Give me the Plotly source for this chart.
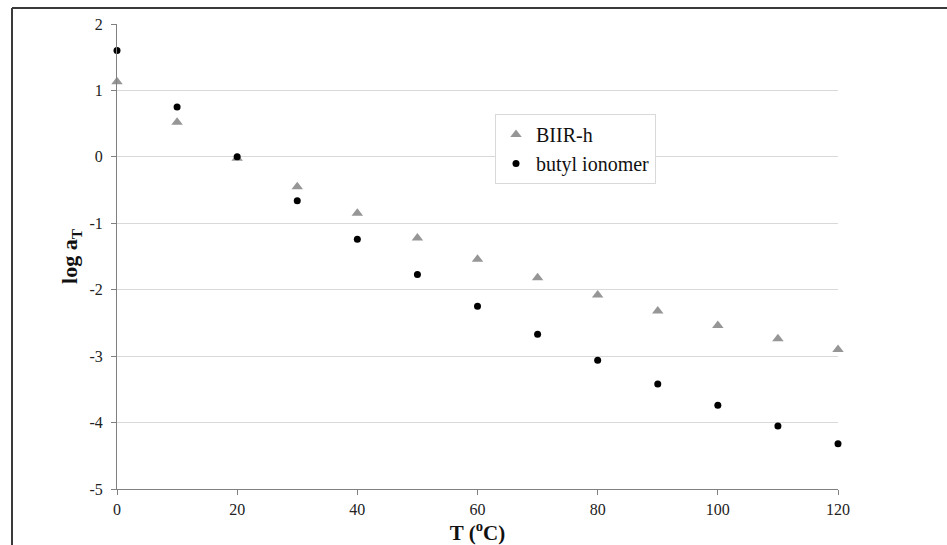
import plotly.graph_objects as go

# Data
temperature = [0, 10, 20, 30, 40, 50, 60, 70, 80, 90, 100, 110, 120]
biir_h = [1.13, 0.52, -0.02, -0.45, -0.85, -1.22, -1.54, -1.82, -2.08, -2.32, -2.54, -2.74, -2.90]
butyl_ionomer = [1.60, 0.75, 0.0, -0.66, -1.24, -1.77, -2.25, -2.67, -3.06, -3.42, -3.74, -4.05, -4.32]

x_ticks = [0, 20, 40, 60, 80, 100, 120]
y_ticks = [2, 1, 0, -1, -2, -3, -4, -5]
y_tick_labels = ["2", "1", "0", "-1", "-2", "-3", "-4", "-5"]

W, H = 947, 545
L, R, T, B = 117, 109, 24, 56
pw, ph = W - L - R, H - T - B

serif = "Liberation Serif, Times New Roman, serif"

fig = go.Figure()
fig.add_trace(go.Scatter(
    x=temperature, y=biir_h, mode="markers", name="BIIR-h",
    marker=dict(symbol="triangle-up", size=10, color="#969696"),
    cliponaxis=False,
))
fig.add_trace(go.Scatter(
    x=temperature, y=butyl_ionomer, mode="markers", name="butyl ionomer",
    marker=dict(symbol="circle", size=7, color="#000000"),
    cliponaxis=False,
))

def px_x(p):
    return (p - L) / pw

def px_y(p):
    return (H - B - p) / ph

# outer frame (top and left edges visible in reference)
fig.add_shape(type="line", xref="paper", yref="paper",
              x0=px_x(12), x1=px_x(W + 5), y0=px_y(8), y1=px_y(8),
              line=dict(color="#3a3a3a", width=2))
fig.add_shape(type="line", xref="paper", yref="paper",
              x0=px_x(12), x1=px_x(12), y0=px_y(8), y1=px_y(H + 5),
              line=dict(color="#3a3a3a", width=2))

fig.update_layout(
    width=W, height=H,
    margin=dict(l=L, r=R, t=T, b=B, pad=0, autoexpand=False),
    paper_bgcolor="white", plot_bgcolor="white",
    font=dict(family=serif, size=16, color="#222222"),
    showlegend=True,
    legend=dict(
        x=px_x(495), y=px_y(114), xanchor="left", yanchor="top",
        bgcolor="white", bordercolor="#d9d9d9", borderwidth=1,
        font=dict(family=serif, size=20, color="#111111"),
        itemwidth=30, tracegroupgap=0,
    ),
    xaxis=dict(
        range=[0, 120], tickvals=x_ticks, automargin=False,
        showgrid=False, zeroline=False,
        showline=True, linecolor="#808080", linewidth=1,
        ticks="outside", ticklen=5, tickcolor="#808080",
        ticklabelstandoff=1,
        tickfont=dict(family=serif, size=16, color="#222222"),
        title=dict(text="<b>T (<sup>o</sup>C)</b>", standoff=4,
                   font=dict(family=serif, size=21, color="#111111")),
    ),
    yaxis=dict(
        range=[-5, 2], tickvals=y_ticks, ticktext=y_tick_labels, automargin=False,
        showgrid=True, gridcolor="#d9d9d9", gridwidth=1, zeroline=False,
        showline=True, linecolor="#808080", linewidth=1,
        ticks="outside", ticklen=5, tickcolor="#808080",
        ticklabelstandoff=5,
        tickfont=dict(family=serif, size=16, color="#222222"),
        title=dict(text="<b>log a<sub>T</sub></b>", standoff=5,
                   font=dict(family=serif, size=22, color="#111111")),
    ),
)

fig.write_html("out.html")
